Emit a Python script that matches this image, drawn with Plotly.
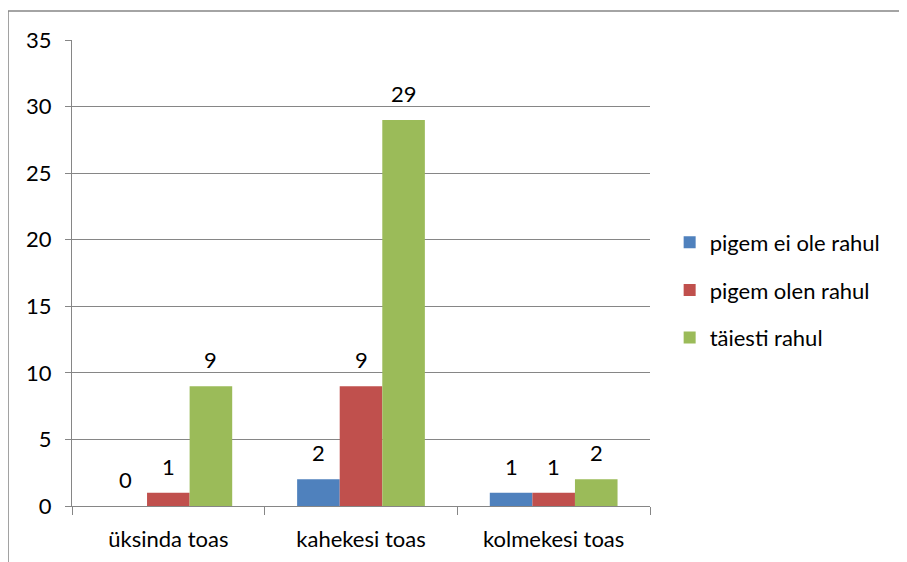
import plotly.graph_objects as go

# ─────────────────────────────────────────────────────────────────────────────
# DATA
# ─────────────────────────────────────────────────────────────────────────────
categories = ["üksinda toas", "kahekesi toas", "kolmekesi toas"]
series_names = ["pigem ei ole rahul", "pigem olen rahul", "täiesti rahul"]
ei_ole_rahul = [0, 2, 1]
olen_rahul = [1, 9, 1]
taiesti_rahul = [9, 29, 2]
y_ticks = [0, 5, 10, 15, 20, 25, 30, 35]

COLORS = ["#4F81BD", "#C0504D", "#9BBB59"]
FONT = "Lato, Calibri, 'Open Sans', sans-serif"
GRID = "#868686"
FSIZE = 22

fig = go.Figure()
all_values = [ei_ole_rahul, olen_rahul, taiesti_rahul]
for name, vals, col in zip(series_names, all_values, COLORS):
    fig.add_trace(go.Bar(
        x=categories, y=vals, name=name, legendgroup=name,
        marker=dict(color=col, line=dict(width=0)),
    ))

# Data labels — Excel puts them a bit higher above the bars
bar_px = 42.6
for i, vals in enumerate(all_values):
    for cat, v in zip(categories, vals):
        fig.add_annotation(
            x=cat, y=v, xref="x", yref="y", text=str(v),
            showarrow=False, yanchor="bottom", yshift=11,
            xshift=(i - 1) * bar_px,
            font=dict(family=FONT, size=FSIZE, color="#000000"),
        )

# Chart outer border
fig.add_shape(type="rect", xref="paper", yref="paper",
              x0=-0.1107, x1=1.6, y0=-0.3, y1=1.062,
              line=dict(color="#868686", width=1.5), layer="below")

fig.update_layout(
    width=907, height=562,
    margin=dict(l=64, r=265, t=32, b=64),
    paper_bgcolor="white", plot_bgcolor="white",
    barmode="group", bargap=0.337, bargroupgap=0,
    font=dict(family=FONT, size=FSIZE, color="#000000"),
    showlegend=True,
    legend=dict(
        x=1.034, y=0.4635, xanchor="left", yanchor="middle",
        font=dict(family=FONT, size=FSIZE, color="#000000"),
        itemwidth=30, tracegroupgap=16,
        bgcolor="rgba(0,0,0,0)",
    ),
)
fig.update_xaxes(
    showgrid=False, showline=True, linecolor=GRID, linewidth=1,
    ticks="outside", ticklen=8, tickcolor=GRID, tickson="boundaries",
    ticklabelstandoff=14,
)
fig.update_yaxes(
    range=[0, 35], tickvals=y_ticks,
    showgrid=True, gridcolor=GRID, gridwidth=1,
    showline=True, linecolor=GRID, linewidth=1,
    ticks="outside", ticklen=6, tickcolor=GRID,
    zeroline=False, ticklabelstandoff=9,
)

fig.write_html("out.html")
